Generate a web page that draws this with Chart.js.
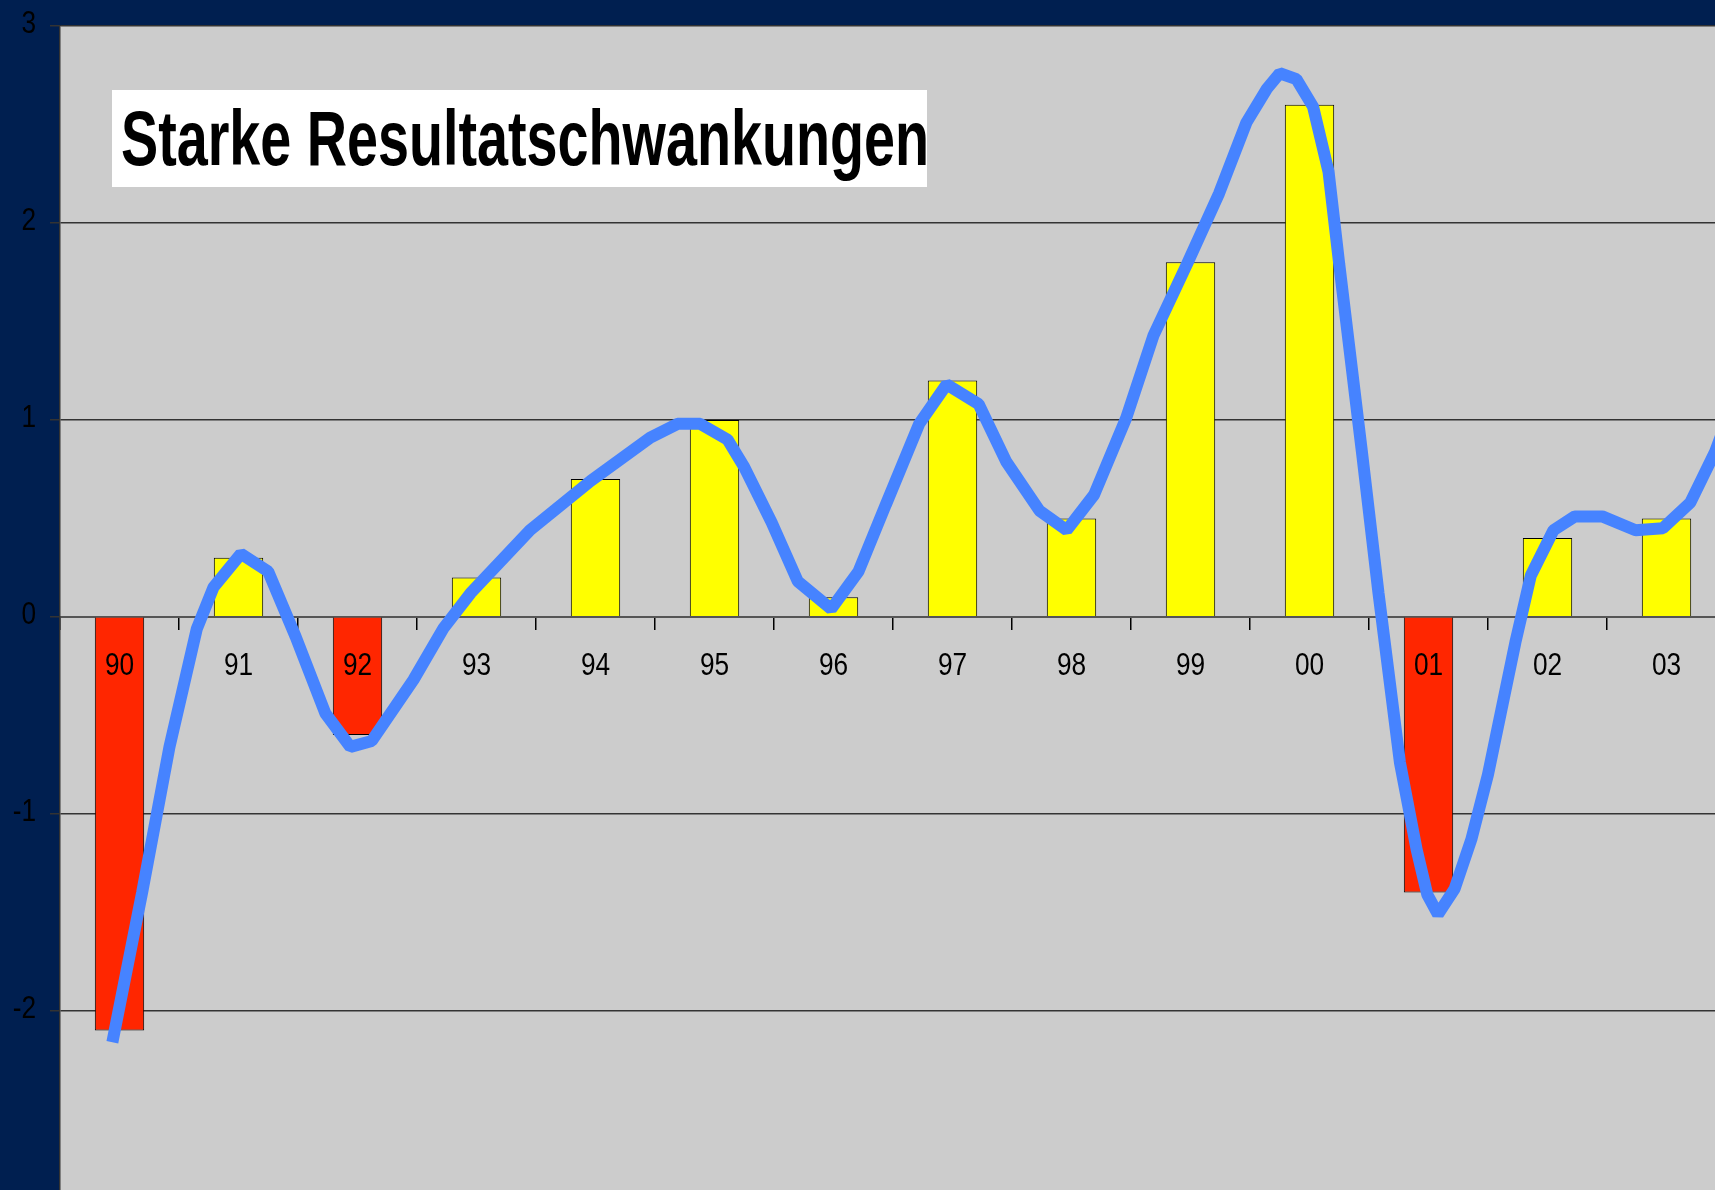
<html lang="de">

<head>
    <meta charset="UTF-8">
    <title>Starke Resultatschwankungen</title>
    <script src="https://cdn.jsdelivr.net/npm/chart.js"></script>
    <style>
        html, body { margin: 0; padding: 0; background: #001f50; overflow: hidden; }
        #wrap { width: 1715px; height: 1190px; overflow: hidden; }
    </style>
</head>

<body>
    <div id="wrap"><canvas id="myChart" width="1726" height="1190"></canvas></div>

    <script>
        // Jahre (Kategorien) und Resultate als Balken
        let jahre = ['90', '91', '92', '93', '94', '95', '96', '97', '98', '99', '00', '01', '02', '03'];
        let resultate = [-2.1, 0.3, -0.6, 0.2, 0.7, 1.0, 0.1, 1.2, 0.5, 1.8, 2.6, -1.4, 0.4, 0.5];

        // die blaue Kurve, gelesen als Punkte (Position in Jahren, Wert)
        let kurveX = [-0.06, 0.19, 0.42, 0.65, 0.79, 1.02, 1.25, 1.48, 1.73, 1.94, 2.12, 2.47, 2.72, 2.95, 3.45,
            3.96, 4.46, 4.69, 4.88, 5.11, 5.25, 5.48, 5.70, 5.98, 6.21, 6.44, 6.72, 6.95, 7.22, 7.45, 7.73, 7.96,
            8.19, 8.46, 8.69, 8.97, 9.24, 9.47, 9.64, 9.75, 9.89, 10.03, 10.16, 10.25, 10.44, 10.58, 10.76, 10.90,
            10.99, 11.08, 11.22, 11.36, 11.50, 11.73, 11.86, 12.05, 12.23, 12.46, 12.74, 12.97, 13.20, 13.41, 13.60];
        let kurveY = [-2.16, -1.40, -0.66, -0.06, 0.15, 0.32, 0.23, -0.10, -0.49, -0.66, -0.63, -0.32, -0.06, 0.12, 0.44,
            0.69, 0.91, 0.98, 0.98, 0.90, 0.76, 0.48, 0.18, 0.04, 0.23, 0.57, 0.98, 1.18, 1.08, 0.79, 0.54, 0.44,
            0.62, 1.01, 1.43, 1.79, 2.15, 2.51, 2.68, 2.76, 2.73, 2.59, 2.26, 1.79, 0.84, 0.12, -0.74, -1.18,
            -1.41, -1.51, -1.38, -1.13, -0.80, -0.13, 0.21, 0.44, 0.51, 0.51, 0.44, 0.45, 0.58, 0.84, 1.15];

        // Y-Achse
        let yTicks = [-2, -1, 0, 1, 2, 3];
        let titel = 'Starke Resultatschwankungen';

        let schrift = '"Liberation Sans Narrow", "Liberation Sans", Arial, sans-serif';

        // schmale Schrift: Text horizontal zusammendrücken
        function schmalerText(ctx, text, x, y, align, faktor) {
            let w = ctx.measureText(text).width * faktor;
            let start = x;
            if (align === 'center') start = x - w / 2;
            if (align === 'right') start = x - w;
            ctx.save();
            ctx.translate(start, y);
            ctx.scale(faktor, 1);
            ctx.textAlign = 'left';
            ctx.fillText(text, 0, 0);
            ctx.restore();
        }

        // Hintergrund der Zeichenfläche grau
        let hintergrund = {
            id: 'hintergrund',
            beforeDraw(chart) {
                let a = chart.chartArea;
                let ctx = chart.ctx;
                ctx.save();
                ctx.fillStyle = '#cccccc';
                ctx.fillRect(a.left, a.top, a.right - a.left, a.bottom - a.top);
                ctx.restore();
            }
        };

        // Achsenbeschriftung (schmal) über die Skalen der Bibliothek
        let beschriftung = {
            id: 'beschriftung',
            afterDatasetsDraw(chart) {
                let ctx = chart.ctx;
                let xs = chart.scales.x;
                let ys = chart.scales.y;
                let null_px = ys.getPixelForValue(0);
                ctx.save();
                ctx.fillStyle = '#000000';
                ctx.font = '32px ' + schrift;
                ctx.textBaseline = 'alphabetic';
                jahre.forEach((j, i) => {
                    schmalerText(ctx, j, xs.getPixelForTick(i), null_px + 58, 'center', 0.82);
                });
                yTicks.forEach(v => {
                    schmalerText(ctx, String(v), 36, ys.getPixelForValue(v) + 7, 'right', 0.82);
                });
                ctx.restore();
            }
        };

        // weisser Kasten mit Titel
        let titelBox = {
            id: 'titelBox',
            afterDraw(chart) {
                let ctx = chart.ctx;
                ctx.save();
                ctx.fillStyle = '#ffffff';
                ctx.fillRect(112, 90, 815, 97);
                ctx.font = 'bold 77px ' + schrift;
                ctx.fillStyle = '#000000';
                ctx.textBaseline = 'alphabetic';
                let w = ctx.measureText(titel).width;
                ctx.translate(121, 165);
                ctx.scale(808 / w, 1);
                ctx.fillText(titel, 0, 0);
                ctx.restore();
            }
        };

        let ctx = document.getElementById('myChart').getContext('2d');
        let myChart = new Chart(ctx, {
            type: 'bar',
            data: {
                labels: jahre,
                datasets: [
                    {
                        type: 'line',
                        data: kurveX.map((x, i) => ({ x: x, y: kurveY[i] })),
                        xAxisID: 'x2',
                        borderColor: '#4683ff',
                        borderWidth: 12,
                        borderJoinStyle: 'bevel',
                        pointRadius: 0,
                        tension: 0,
                        fill: false,
                        order: 0
                    },
                    {
                        data: resultate,
                        xAxisID: 'x',
                        backgroundColor: resultate.map(v => v < 0 ? '#ff2600' : '#ffff00'),
                        borderColor: '#000000',
                        borderWidth: 1,
                        grouped: false,
                        categoryPercentage: 1,
                        barPercentage: 0.415,
                        order: 1
                    }]
            },
            options: {
                responsive: false,
                animation: false,
                layout: { padding: { top: 26, left: 0, right: 0, bottom: 0 } },
                plugins: {
                    legend: { display: false },
                    tooltip: { enabled: false }
                },
                scales: {
                    x: {
                        position: { y: 0 },
                        grid: { drawOnChartArea: false, drawTicks: true, tickLength: 12, color: '#000000', lineWidth: 1.5 },
                        border: { color: '#555555', width: 2 },
                        ticks: { display: false }
                    },
                    x2: {
                        type: 'linear',
                        display: false,
                        offset: false,
                        grid: { offset: false },
                        min: -0.5,
                        max: 13.5
                    },
                    y: {
                        min: -2.91,
                        max: 3,
                        afterBuildTicks(scale) {
                            scale.ticks = yTicks.map(v => ({ value: v }));
                        },
                        afterFit(scale) {
                            scale.width = 60;
                            scale.paddingTop = 0;
                            scale.paddingBottom = 0;
                        },
                        grid: { color: '#333333', lineWidth: 1.5, tickLength: 10 },
                        border: { color: '#333333', width: 1.5 },
                        ticks: { display: false }
                    }
                }
            },
            plugins: [hintergrund, beschriftung, titelBox]
        });
    </script>

</body>

</html>
